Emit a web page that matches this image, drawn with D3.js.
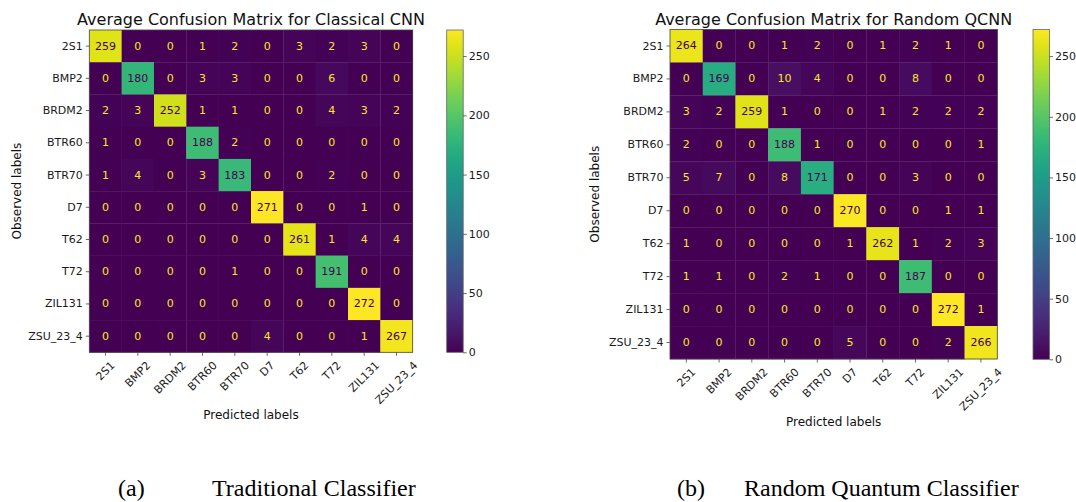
<!DOCTYPE html>
<html>
<head>
<meta charset="utf-8">
<script src="https://cdn.jsdelivr.net/npm/d3@7"></script>
<style>
  body { margin: 0; background: #fff; }
  svg { display: block; font-family: "DejaVu Sans", sans-serif; }
</style>
</head>
<body>
<script>
// class labels (same on both axes)
var classes = ["2S1", "BMP2", "BRDM2", "BTR60", "BTR70", "D7", "T62", "T72", "ZIL131", "ZSU_23_4"];

// rows = observed, columns = predicted
var cnnMatrix = [
  [259, 0, 0, 1, 2, 0, 3, 2, 3, 0],
  [0, 180, 0, 3, 3, 0, 0, 6, 0, 0],
  [2, 3, 252, 1, 1, 0, 0, 4, 3, 2],
  [1, 0, 0, 188, 2, 0, 0, 0, 0, 0],
  [1, 4, 0, 3, 183, 0, 0, 2, 0, 0],
  [0, 0, 0, 0, 0, 271, 0, 0, 1, 0],
  [0, 0, 0, 0, 0, 0, 261, 1, 4, 4],
  [0, 0, 0, 0, 1, 0, 0, 191, 0, 0],
  [0, 0, 0, 0, 0, 0, 0, 0, 272, 0],
  [0, 0, 0, 0, 0, 4, 0, 0, 1, 267]
];
var qcnnMatrix = [
  [264, 0, 0, 1, 2, 0, 1, 2, 1, 0],
  [0, 169, 0, 10, 4, 0, 0, 8, 0, 0],
  [3, 2, 259, 1, 0, 0, 1, 2, 2, 2],
  [2, 0, 0, 188, 1, 0, 0, 0, 0, 1],
  [5, 7, 0, 8, 171, 0, 0, 3, 0, 0],
  [0, 0, 0, 0, 0, 270, 0, 0, 1, 1],
  [1, 0, 0, 0, 0, 1, 262, 1, 2, 3],
  [1, 1, 0, 2, 1, 0, 0, 187, 0, 0],
  [0, 0, 0, 0, 0, 0, 0, 0, 272, 1],
  [0, 0, 0, 0, 0, 5, 0, 0, 2, 266]
];
var colorTicks = [0, 50, 100, 150, 200, 250];
var titles = ["Average Confusion Matrix for Classical CNN", "Average Confusion Matrix for Random QCNN"];
var captionTags = ["(a)", "(b)"];
var captionTexts = ["Traditional Classifier", "Random Quantum Classifier"];

var W = 1076, H = 502;
var svg = d3.select("body").append("svg").attr("width", W).attr("height", H);
svg.append("rect").attr("width", W).attr("height", H).attr("fill", "#fff");

var defs = svg.append("defs");

// panel geometry
var panels = [
  { m: cnnMatrix, x0: 89.3, y0: 30, x1: 412.7, y1: 352.3, cbx: 446.7, cby0: 30, cby1: 352.3, ylabX: 17,
    capTag: 118, capText: 212 },
  { m: qcnnMatrix, x0: 670, y0: 29.5, x1: 997.3, y1: 359, cbx: 1033, cby0: 29.5, cby1: 359.3, ylabX: 595,
    capTag: 677, capText: 744 }
];

panels.forEach(function(p, pi) {
  var g = svg.append("g");
  var vmax = d3.max(p.m, function(r) { return d3.max(r); });
  var color = d3.scaleSequential(d3.interpolateViridis).domain([0, vmax]);

  var x = d3.scaleBand().domain(classes).range([p.x0, p.x1]);
  var y = d3.scaleBand().domain(classes).range([p.y0, p.y1]);

  var cells = [];
  p.m.forEach(function(row, i) {
    row.forEach(function(v, j) { cells.push({ r: classes[i], c: classes[j], v: v }); });
  });

  g.selectAll("rect.cell").data(cells).enter().append("rect")
    .attr("class", "cell")
    .attr("x", function(d) { return x(d.c); })
    .attr("y", function(d) { return y(d.r); })
    .attr("width", x.bandwidth() + 0.3)
    .attr("height", y.bandwidth() + 0.3)
    .attr("fill", function(d) { return color(d.v); });

  // text colour flips at the midpoint like sklearn does
  g.selectAll("text.val").data(cells).enter().append("text")
    .attr("class", "val")
    .attr("x", function(d) { return x(d.c) + x.bandwidth() / 2; })
    .attr("y", function(d) { return y(d.r) + y.bandwidth() / 2; })
    .attr("text-anchor", "middle")
    .attr("dominant-baseline", "central")
    .attr("font-size", 11)
    .attr("fill", function(d) { return d.v < vmax / 2 ? color(vmax) : color(0); })
    .text(function(d) { return d.v; });

  // frame
  g.append("rect")
    .attr("x", p.x0).attr("y", p.y0)
    .attr("width", p.x1 - p.x0).attr("height", p.y1 - p.y0)
    .attr("fill", "none").attr("stroke", "#444").attr("stroke-width", 0.8);

  // y axis
  var ya = g.append("g").attr("transform", "translate(" + p.x0 + ",0)")
    .call(d3.axisLeft(y).tickSize(3.5).tickPadding(3));
  ya.select(".domain").remove();
  ya.selectAll("line").attr("stroke", "#444").attr("stroke-width", 0.8);
  ya.selectAll("text").attr("font-size", 11).attr("fill", "#1a1a1a")
    .attr("font-family", "DejaVu Sans, sans-serif");

  // x axis with 45 degree labels, bbox centred under the tick
  var xa = g.append("g").attr("transform", "translate(0," + p.y1 + ")")
    .call(d3.axisBottom(x).tickSize(3.5));
  xa.select(".domain").remove();
  xa.selectAll("line").attr("stroke", "#444").attr("stroke-width", 0.8);
  xa.selectAll("text")
    .attr("font-size", 11).attr("fill", "#1a1a1a")
    .attr("font-family", "DejaVu Sans, sans-serif")
    .attr("y", 0).attr("dy", 0)
    .attr("text-anchor", "middle")
    .attr("dominant-baseline", "central")
    .attr("transform", function() {
      var w = this.getComputedTextLength();
      var h = 11 * 1.1;
      var off = 7 + (w + h) * Math.SQRT1_2 / 2;
      return "translate(0," + off + ") rotate(-45)";
    });

  // title and axis labels
  g.append("text")
    .attr("x", (p.x0 + p.x1) / 2).attr("y", p.y0 - 5)
    .attr("text-anchor", "middle").attr("font-size", 16).attr("fill", "#111")
    .text(titles[pi]);

  g.append("text")
    .attr("x", (p.x0 + p.x1) / 2).attr("y", p.y1 + 67)
    .attr("text-anchor", "middle").attr("font-size", 12).attr("fill", "#111")
    .text("Predicted labels");

  g.append("text")
    .attr("transform", "translate(" + p.ylabX + "," + (p.y0 + p.y1) / 2 + ") rotate(-90)")
    .attr("text-anchor", "middle").attr("dominant-baseline", "central")
    .attr("font-size", 12).attr("fill", "#111")
    .text("Observed labels");

  // colorbar
  var gradId = "grad" + pi;
  var grad = defs.append("linearGradient").attr("id", gradId)
    .attr("x1", 0).attr("y1", 1).attr("x2", 0).attr("y2", 0);
  d3.range(0, 1.0001, 0.05).forEach(function(t) {
    grad.append("stop").attr("offset", t).attr("stop-color", d3.interpolateViridis(t));
  });
  var cbW = 16.5;
  g.append("rect")
    .attr("x", p.cbx).attr("y", p.cby0)
    .attr("width", cbW).attr("height", p.cby1 - p.cby0)
    .attr("fill", "url(#" + gradId + ")")
    .attr("stroke", "#666").attr("stroke-width", 0.8);

  var cScale = d3.scaleLinear().domain([0, vmax]).range([p.cby1, p.cby0]);
  var ca = g.append("g").attr("transform", "translate(" + (p.cbx + cbW) + ",0)")
    .call(d3.axisRight(cScale).tickValues(colorTicks).tickSize(3.5).tickPadding(2));
  ca.select(".domain").remove();
  ca.selectAll("line").attr("stroke", "#444").attr("stroke-width", 0.8);
  ca.selectAll("text").attr("font-size", 11).attr("fill", "#1a1a1a")
    .attr("font-family", "DejaVu Sans, sans-serif");

  // caption under the panel
  svg.append("text")
    .attr("x", p.capTag).attr("y", 496)
    .attr("font-family", "Liberation Serif, Times New Roman, serif")
    .attr("font-size", 24).attr("fill", "#000")
    .text(captionTags[pi]);
  svg.append("text")
    .attr("x", p.capText).attr("y", 496)
    .attr("font-family", "Liberation Serif, Times New Roman, serif")
    .attr("font-size", 24).attr("fill", "#000")
    .text(captionTexts[pi]);
});
</script>
</body>
</html>
